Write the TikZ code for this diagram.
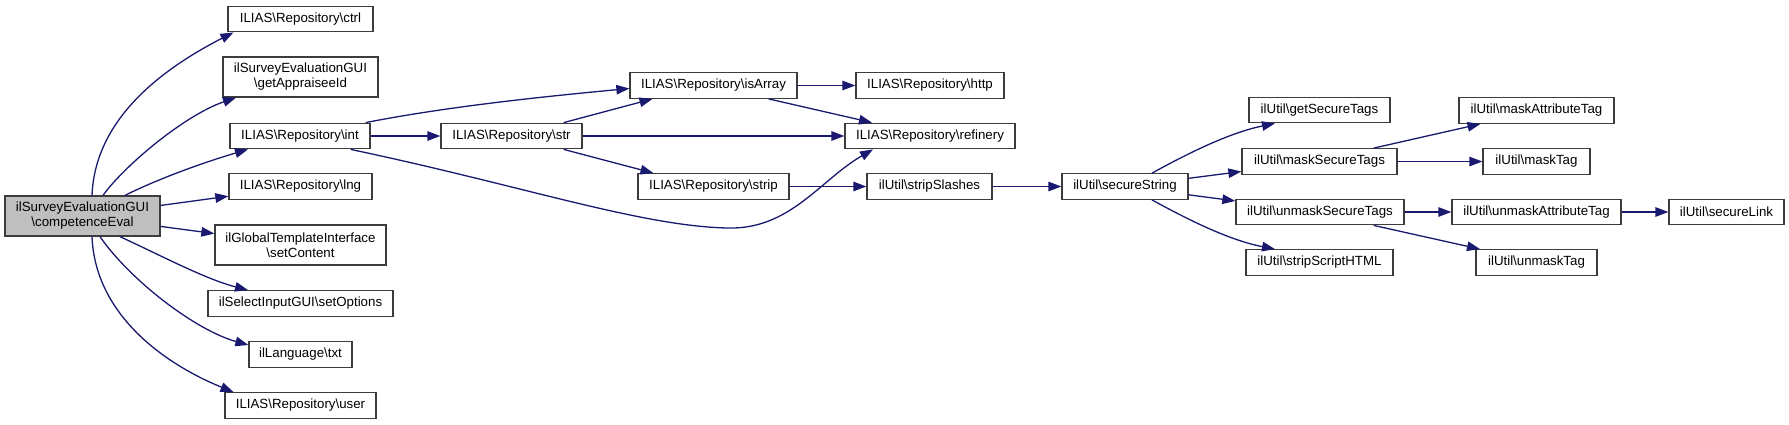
\documentclass[tikz,border=0pt]{standalone}
\usepackage{fontspec}
\setmainfont{Liberation Sans}
\usetikzlibrary{arrows.meta}
\definecolor{edgecol}{HTML}{191970}
\definecolor{boxcol}{HTML}{3C3C3C}
\definecolor{rootfill}{HTML}{BFBFBF}
\newcommand{\bks}{\textbackslash{}}
\begin{document}
\begin{tikzpicture}[x=1pt,y=-1pt,
  fn/.style={draw=boxcol, line width=1.3pt, fill=white, inner sep=0pt,
    minimum height=25.5pt, font=\fontsize{13.3}{15}\selectfont, align=center},
  edge/.style={draw=edgecol, line width=1.3pt, -{Triangle[length=13pt,width=9.5pt]}}]
\fill[white] (0,0) rectangle (1789,424);
\useasboundingbox (0,0) rectangle (1789,424);
% column 0
\node[fn, fill=rootfill, minimum width=155pt, minimum height=40pt] (ce) at (82.5,216) {ilSurveyEvaluationGUI\\\bks competenceEval};
% column 1
\node[fn, minimum width=145pt] (ctrl) at (300.5,19) {ILIAS\bks Repository\bks ctrl};
\node[fn, minimum width=155pt, minimum height=40pt] (appr) at (300.5,77) {ilSurveyEvaluationGUI\\\bks getAppraiseeId};
\node[fn, minimum width=140pt] (int) at (300,136) {ILIAS\bks Repository\bks int};
\node[fn, minimum width=143pt] (lng) at (300.5,186.5) {ILIAS\bks Repository\bks lng};
\node[fn, minimum width=171pt, minimum height=40pt] (setc) at (300.5,245) {ilGlobalTemplateInterface\\\bks setContent};
\node[fn, minimum width=185pt] (seto) at (300.5,303.5) {ilSelectInputGUI\bks setOptions};
\node[fn, minimum width=103pt] (txt) at (300.5,354.5) {ilLanguage\bks txt};
\node[fn, minimum width=151pt] (user) at (300.5,405.5) {ILIAS\bks Repository\bks user};
% column 2
\node[fn, minimum width=141pt] (str) at (511.5,136) {ILIAS\bks Repository\bks str};
% column 3
\node[fn, minimum width=167pt] (isarr) at (713.5,85.5) {ILIAS\bks Repository\bks isArray};
\node[fn, minimum width=151pt] (strip) at (713.5,186.5) {ILIAS\bks Repository\bks strip};
% column 4
\node[fn, minimum width=148pt] (http) at (930,85.5) {ILIAS\bks Repository\bks http};
\node[fn, minimum width=170pt] (refi) at (930,136) {ILIAS\bks Repository\bks refinery};
\node[fn, minimum width=125pt] (slash) at (929.5,186.5) {ilUtil\bks stripSlashes};
% column 5
\node[fn, minimum width=126pt] (secs) at (1125,186.5) {ilUtil\bks secureString};
% column 6
\node[fn, minimum width=141pt] (gst) at (1319.5,110) {ilUtil\bks getSecureTags};
\node[fn, minimum width=155pt] (mst) at (1319.5,161.5) {ilUtil\bks maskSecureTags};
\node[fn, minimum width=168pt] (umst) at (1320,212) {ilUtil\bks unmaskSecureTags};
\node[fn, minimum width=147pt] (ssh) at (1319.5,262.5) {ilUtil\bks stripScriptHTML};
% column 7
\node[fn, minimum width=155pt] (mat) at (1536.5,110.5) {ilUtil\bks maskAttributeTag};
\node[fn, minimum width=107pt] (mtag) at (1536.5,161.5) {ilUtil\bks maskTag};
\node[fn, minimum width=169pt] (umat) at (1536.5,212) {ilUtil\bks unmaskAttributeTag};
\node[fn, minimum width=121pt] (umtag) at (1536.5,262.5) {ilUtil\bks unmaskTag};
% column 8
\node[fn, minimum width=115pt] (slink) at (1726.5,212) {ilUtil\bks secureLink};

% edges from root
\draw[edge] ([xshift=9.5pt]ce.north) .. controls (95,120) and (160,70) .. ([xshift=-67pt]ctrl.south);
\draw[edge] ([xshift=20.5pt]ce.north) .. controls (125,165) and (185,115) .. ([xshift=-64.5pt]appr.south);
\draw[edge] ([xshift=42.5pt]ce.north) .. controls (160,178) and (205,162) .. ([xshift=-52pt]int.south);
\draw[edge] (ce) -- (lng);
\draw[edge] (ce) -- (setc);
\draw[edge] ([xshift=37.5pt]ce.south) .. controls (160,255) and (205,279) .. ([xshift=-52.5pt]seto.north);
\draw[edge] ([xshift=17.5pt]ce.south) .. controls (130,280) and (195,330) .. ([yshift=9.5pt]txt.west);
\draw[edge] ([xshift=9.5pt]ce.south) .. controls (95,312) and (160,362) .. ([xshift=-67pt]user.north);
% int
\draw[edge] ([xshift=-5pt]int.north east) .. controls (450,106) and (550,96) .. ([yshift=-3pt]isarr.west);
\draw[edge] (int) -- (str);
\draw[edge] ([xshift=-20pt]int.south east) .. controls (520,185) and (640,226) .. (727,228)
  .. controls (790,230) and (820,180) .. ([xshift=-57pt]refi.south);
% str
\draw[edge] ([xshift=-19pt]str.north east) -- ([xshift=-61pt]isarr.south);
\draw[edge] (str) -- (refi);
\draw[edge] ([xshift=-19pt]str.south east) -- ([xshift=-60pt]strip.north);
% isArray
\draw[edge] (isarr) -- (http);
\draw[edge] ([xshift=-29pt]isarr.south east) -- ([xshift=-58pt]refi.north);
% strip chain
\draw[edge] (strip) -- (slash);
\draw[edge] (slash) -- (secs);
% secureString
\draw[edge] ([xshift=27pt]secs.north) .. controls (1185,155) and (1228,133) .. ([xshift=-44.5pt]gst.south);
\draw[edge] (secs) -- (mst);
\draw[edge] (secs) -- (umst);
\draw[edge] ([xshift=27pt]secs.south) .. controls (1185,218) and (1228,240) .. ([xshift=-44.5pt]ssh.north);
% mask
\draw[edge] ([xshift=-24pt]mst.north east) -- ([xshift=-56pt]mat.south);
\draw[edge] (mst) -- (mtag);
\draw[edge] (umst) -- (umat);
\draw[edge] ([xshift=-31pt]umst.south east) -- ([xshift=-56.5pt]umtag.north);
\draw[edge] (umat) -- (slink);
\end{tikzpicture}
\end{document}
